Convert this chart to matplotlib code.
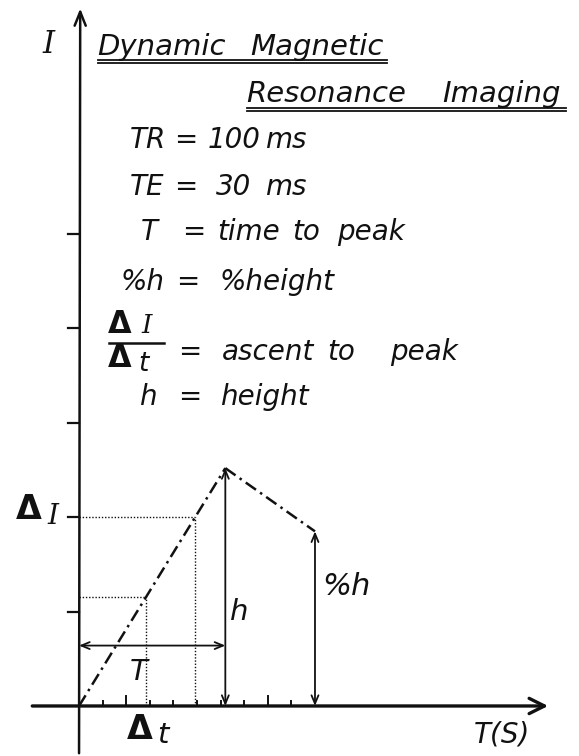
import matplotlib
matplotlib.use("Agg")
import matplotlib.pyplot as plt

W, H = 579, 756

# signal intensity curve: onset -> peak -> end of measurement
curve_t = [0.0, 6.2, 10.0]
curve_I = [0.0, 2.52, 1.85]

slope_t = [2.84, 4.92]
slope_I = [1.155, 2.0]

y_ticks = [1, 2, 3, 4, 5]
x_ticks = [1, 2, 3, 4, 5, 6, 7, 8, 9]
x_ticks_long = [2, 8]
T_level = 0.64

fig = plt.figure(figsize=(W / 100, H / 100), dpi=100)
ax = fig.add_axes([0, 0, 1, 1])
ax.set_xlim(-3.35, 21.19)
ax.set_ylim(-0.53, 7.48)
ax.axis("off")

ink = "#111111"

# axes with open arrow heads
ax.annotate("", xy=(20.0, 0), xytext=(-2.1, 0),
            arrowprops=dict(arrowstyle="->,head_length=1.1,head_width=0.55", lw=2.4, color=ink))
ax.annotate("", xy=(0.05, 7.42), xytext=(0, -0.53),
            arrowprops=dict(arrowstyle="->,head_length=1.0,head_width=0.4", lw=1.8, color=ink))

# ticks
for yt in y_ticks:
    ax.plot([-0.45, 0], [yt, yt], color=ink, lw=1.6)
for xt in x_ticks:
    hgt = 0.11 if xt in x_ticks_long else 0.05
    ax.plot([xt, xt], [0, hgt], color=ink, lw=1.4)

# curve
ax.plot(curve_t[:2], curve_I[:2], color=ink, lw=1.8, linestyle=(0, (5, 2, 1, 2)))
ax.plot(curve_t[1:], curve_I[1:], color=ink, lw=1.8, linestyle=(0, (5, 2, 1, 2)))

# dotted guides for the slope
for st, si in zip(slope_t, slope_I):
    ax.plot([0, st], [si, si], color=ink, lw=1.0, linestyle=(0, (1, 1.3)))
    ax.plot([st, st], [0, si], color=ink, lw=1.0, linestyle=(0, (1, 1.3)))

# height arrows and time-to-peak arrow
arr = dict(arrowstyle="<->,head_length=0.6,head_width=0.25", lw=1.3, color=ink,
           shrinkA=0, shrinkB=0)
ax.annotate("", xy=(curve_t[1], curve_I[1]), xytext=(curve_t[1], 0), arrowprops=arr)
ax.annotate("", xy=(curve_t[2], curve_I[2]), xytext=(curve_t[2], 0), arrowprops=arr)
ax.annotate("", xy=(curve_t[1], T_level), xytext=(0, T_level), arrowprops=arr)


def label(xp, yp, s, size=20, family="DejaVu Sans", style="italic", **kw):
    ax.text(xp / W, 1 - yp / H, s, transform=ax.transAxes, fontsize=size,
            family=family, style=style, va="baseline", ha="left", color=ink, **kw)


def hline(x0, x1, yp, lw=1.3):
    ax.plot([x0 / W, x1 / W], [1 - yp / H, 1 - yp / H], transform=ax.transAxes,
            color=ink, lw=lw)


def delta(xp, yp, size=22):
    label(xp, yp, "Δ", size=size, style="normal", weight="semibold")


# axis labels
label(42, 53, "I", size=22, family="DejaVu Serif")
delta(16, 519, size=24)
label(47, 524, "I", size=20, family="DejaVu Serif")
delta(127, 739, size=24)
label(157, 743, "t", size=21)
label(474, 743, "T(S)", size=20)

# title
label(97, 55, "Dynamic", size=21)
label(250, 55, "Magnetic", size=21)
hline(98, 387, 59.5)
hline(98, 387, 62.8)
label(246, 102, "Resonance", size=21)
label(442, 102, "Imaging", size=21)
hline(247, 566, 107.5)
hline(247, 566, 110.8)

# legend of symbols
label(130, 148, "TR", size=20)
label(174, 148, "=", size=20)
label(208, 148, "100", size=20)
label(265, 148, "ms", size=20)

label(130, 195, "TE", size=20)
label(174, 195, "=", size=20)
label(216, 195, "30", size=20)
label(265, 195, "ms", size=20)

label(141, 240, "T", size=20)
label(182, 240, "=", size=20)
label(217, 240, "time", size=20)
label(292, 240, "to", size=20)
label(337, 240, "peak", size=20)

label(120, 290, "%h", size=20)
label(176, 290, "=", size=20)
label(219, 290, "%height", size=20)

delta(108, 333, size=22)
label(141, 333, "I", size=19, family="DejaVu Serif")
hline(109, 164, 343, lw=1.8)
delta(108, 367, size=22)
label(138, 371, "t", size=19)
label(178, 360, "=", size=20)
label(222, 360, "ascent", size=20)
label(327, 360, "to", size=20)
label(390, 360, "peak", size=20)

label(139, 405, "h", size=20)
label(178, 405, "=", size=20)
label(220, 405, "height", size=20)

# labels inside the plot
label(322, 595, "%h", size=22)
label(230, 620, "h", size=21)
label(130, 680, "T", size=21)

fig.savefig("out.png", dpi=100, facecolor="white")
